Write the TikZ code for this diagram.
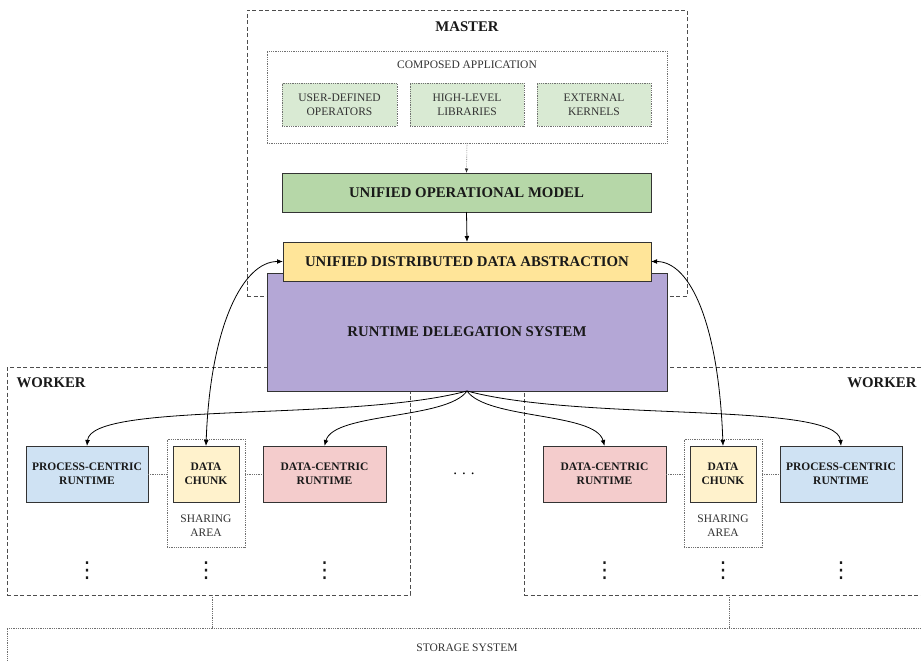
\documentclass[tikz,border=0pt]{standalone}
\usepackage{fontspec}
\setmainfont{Liberation Serif}
\newfontfamily\symbolfont{DejaVu Sans}
\usetikzlibrary{arrows.meta,calc}

\definecolor{greenlt}{HTML}{D9EAD3}
\definecolor{greenmd}{HTML}{B6D7A8}
\definecolor{yellowmd}{HTML}{FFE599}
\definecolor{yellowlt}{HTML}{FFF2CC}
\definecolor{purplemd}{HTML}{B4A7D6}
\definecolor{bluelt}{HTML}{CFE2F3}
\definecolor{redlt}{HTML}{F4CCCC}
\definecolor{edgegray}{HTML}{333333}
\definecolor{dashgray}{HTML}{4D4D4D}
\definecolor{dotgray}{HTML}{707070}

\begin{document}
\begin{tikzpicture}[x=1pt,y=1pt,
  bigfont/.style={font=\fontsize{14.8}{17}\selectfont\bfseries, text=black!90},
  smallbold/.style={font=\fontsize{11.5}{14}\selectfont\bfseries, text=black!90},
  smallreg/.style={font=\fontsize{11.5}{14}\selectfont, text=black!80},
  region/.style={draw=dashgray, dash pattern=on 4pt off 2.5pt, line width=0.8pt,
    inner sep=0pt, outer sep=0pt},
  dotbox/.style={draw=dotgray, dash pattern=on 0.7pt off 1.1pt, line width=0.6pt,
    inner sep=0pt, outer sep=0pt},
  block/.style={draw=edgegray, line width=0.9pt, inner sep=0pt, outer sep=0pt, align=center},
  tip/.style={-{Latex[length=6pt,width=4.8pt]}},
  bitip/.style={{Latex[length=6pt,width=4.8pt]}-{Latex[length=6pt,width=4.8pt]}},
  link/.style={line width=0.8pt, draw=black},
  vdotsnode/.style={inner sep=0pt, font=\symbolfont\fontsize{22}{24}\selectfont, text=black!90},
]
\fill[white] (0,0) rectangle (921,-661);
\useasboundingbox (0,0) rectangle (921,-661);
\clip (0,0) rectangle (921,-661);

% ---- outer regions ----
\node[region, minimum width=440, minimum height=286] (master) at (467,-153) {};
\node[region, minimum width=403, minimum height=228] (lw) at (208.5,-481) {};
\node[region, minimum width=403, minimum height=228] (rw) at (725.5,-481) {};
\node[dotbox, minimum width=920, minimum height=40, smallreg] (storage) at (467,-648) {STORAGE SYSTEM};

\node[bigfont] (mastertitle) at (467,-27) {MASTER};
\node[bigfont, anchor=west] (lwtitle) at (13,-383) {WORKER};
\node[bigfont, anchor=east] (rwtitle) at (920,-383) {WORKER};

% ---- master: composed application ----
\node[dotbox, minimum width=400, minimum height=92] (composed) at (467,-97) {};
\node[smallreg] (composedtitle) at (467,-65) {COMPOSED APPLICATION};
\node[dotbox, fill=greenlt, minimum width=115, minimum height=43, smallreg, align=center]
  (udo) at (339.5,-104.5) {USER-DEFINED\\OPERATORS};
\node[dotbox, fill=greenlt, minimum width=114, minimum height=43, smallreg, align=center]
  (hll) at (467,-104.5) {HIGH-LEVEL\\LIBRARIES};
\node[dotbox, fill=greenlt, minimum width=114, minimum height=43, smallreg, align=center]
  (ext) at (594,-104.5) {EXTERNAL\\KERNELS};

\node[block, fill=greenmd, minimum width=369, minimum height=39, bigfont]
  (uom) at (466.5,-192.5) {UNIFIED OPERATIONAL MODEL};

% ---- delegation and data abstraction ----
\node[block, fill=purplemd, minimum width=400, minimum height=118, bigfont]
  (rds) at (467,-332) {RUNTIME DELEGATION SYSTEM};
\node[block, fill=yellowmd, minimum width=368, minimum height=39, bigfont]
  (udda) at (467,-261.5) {UNIFIED DISTRIBUTED DATA ABSTRACTION};

\draw[dotbox, -{Latex[length=4.5pt,width=3.5pt,color=black!80]}] (composed.south) -- (uom.north);
\draw[link, tip] (uom.south) -- (udda.north);

% ---- left worker ----
\node[dotbox, minimum width=78, minimum height=108] (lsh) at (206,-493) {};
\node[smallreg, align=center] (lshtitle) at (206,-526) {SHARING\\AREA};
\node[block, fill=bluelt, minimum width=122, minimum height=56, smallbold]
  (lpc) at (87,-474) {PROCESS-CENTRIC\\RUNTIME};
\node[block, fill=yellowlt, minimum width=66, minimum height=56, smallbold]
  (lch) at (206,-474) {DATA\\CHUNK};
\node[block, fill=redlt, minimum width=123, minimum height=56, smallbold]
  (ldc) at (324.5,-474) {DATA-CENTRIC\\RUNTIME};

% ---- right worker ----
\node[dotbox, minimum width=78, minimum height=108] (rsh) at (723,-493) {};
\node[smallreg, align=center] (rshtitle) at (723,-526) {SHARING\\AREA};
\node[block, fill=redlt, minimum width=123, minimum height=56, smallbold]
  (rdc) at (604.5,-474) {DATA-CENTRIC\\RUNTIME};
\node[block, fill=yellowlt, minimum width=66, minimum height=56, smallbold]
  (rch) at (723,-474) {DATA\\CHUNK};
\node[block, fill=bluelt, minimum width=122, minimum height=56, smallbold]
  (rpc) at (841,-474) {PROCESS-CENTRIC\\RUNTIME};

% continuation marks
\node[font=\fontsize{15}{15}\selectfont] (gap) at (464,-474) {. . .};
\node[vdotsnode] (lv1) at (87,-571) {⋮};
\node[vdotsnode] (lv2) at (206,-571) {⋮};
\node[vdotsnode] (lv3) at (324.5,-571) {⋮};
\node[vdotsnode] (rv1) at (604.5,-571) {⋮};
\node[vdotsnode] (rv2) at (723,-571) {⋮};
\node[vdotsnode] (rv3) at (841,-571) {⋮};

% dotted links inside the workers
\draw[dotbox] (lpc.east) -- (lpc.east -| lsh.west);
\draw[dotbox] (ldc.west -| lsh.east) -- (ldc.west);
\draw[dotbox] (rdc.east) -- (rdc.east -| rsh.west);
\draw[dotbox] (rpc.west -| rsh.east) -- (rpc.west);

% workers to storage
\coordinate (lwtap) at ($(lw.south)+(3.5,0)$);
\coordinate (rwtap) at ($(rw.south)+(3.5,0)$);
\draw[dotbox] (lwtap) -- (lwtap |- storage.north);
\draw[dotbox] (rwtap) -- (rwtap |- storage.north);

% delegation arrows
\draw[link, tip] (rds.south) .. controls +(-165:120) and +(85:45) .. (lpc.north);
\draw[link, tip] (rds.south) .. controls +(-125:35) and +(75:35) .. (ldc.north);
\draw[link, tip] (rds.south) .. controls +(-55:35) and +(105:35) .. (rdc.north);
\draw[link, tip] (rds.south) .. controls +(-15:120) and +(95:45) .. (rpc.north);

% data chunk <-> distributed data abstraction
\draw[link, bitip] (lch.north) .. controls +(88:120) and +(-40,0) .. (udda.west);
\draw[link, bitip] (rch.north) .. controls +(92:120) and +(40,0) .. (udda.east);
\end{tikzpicture}
\end{document}
